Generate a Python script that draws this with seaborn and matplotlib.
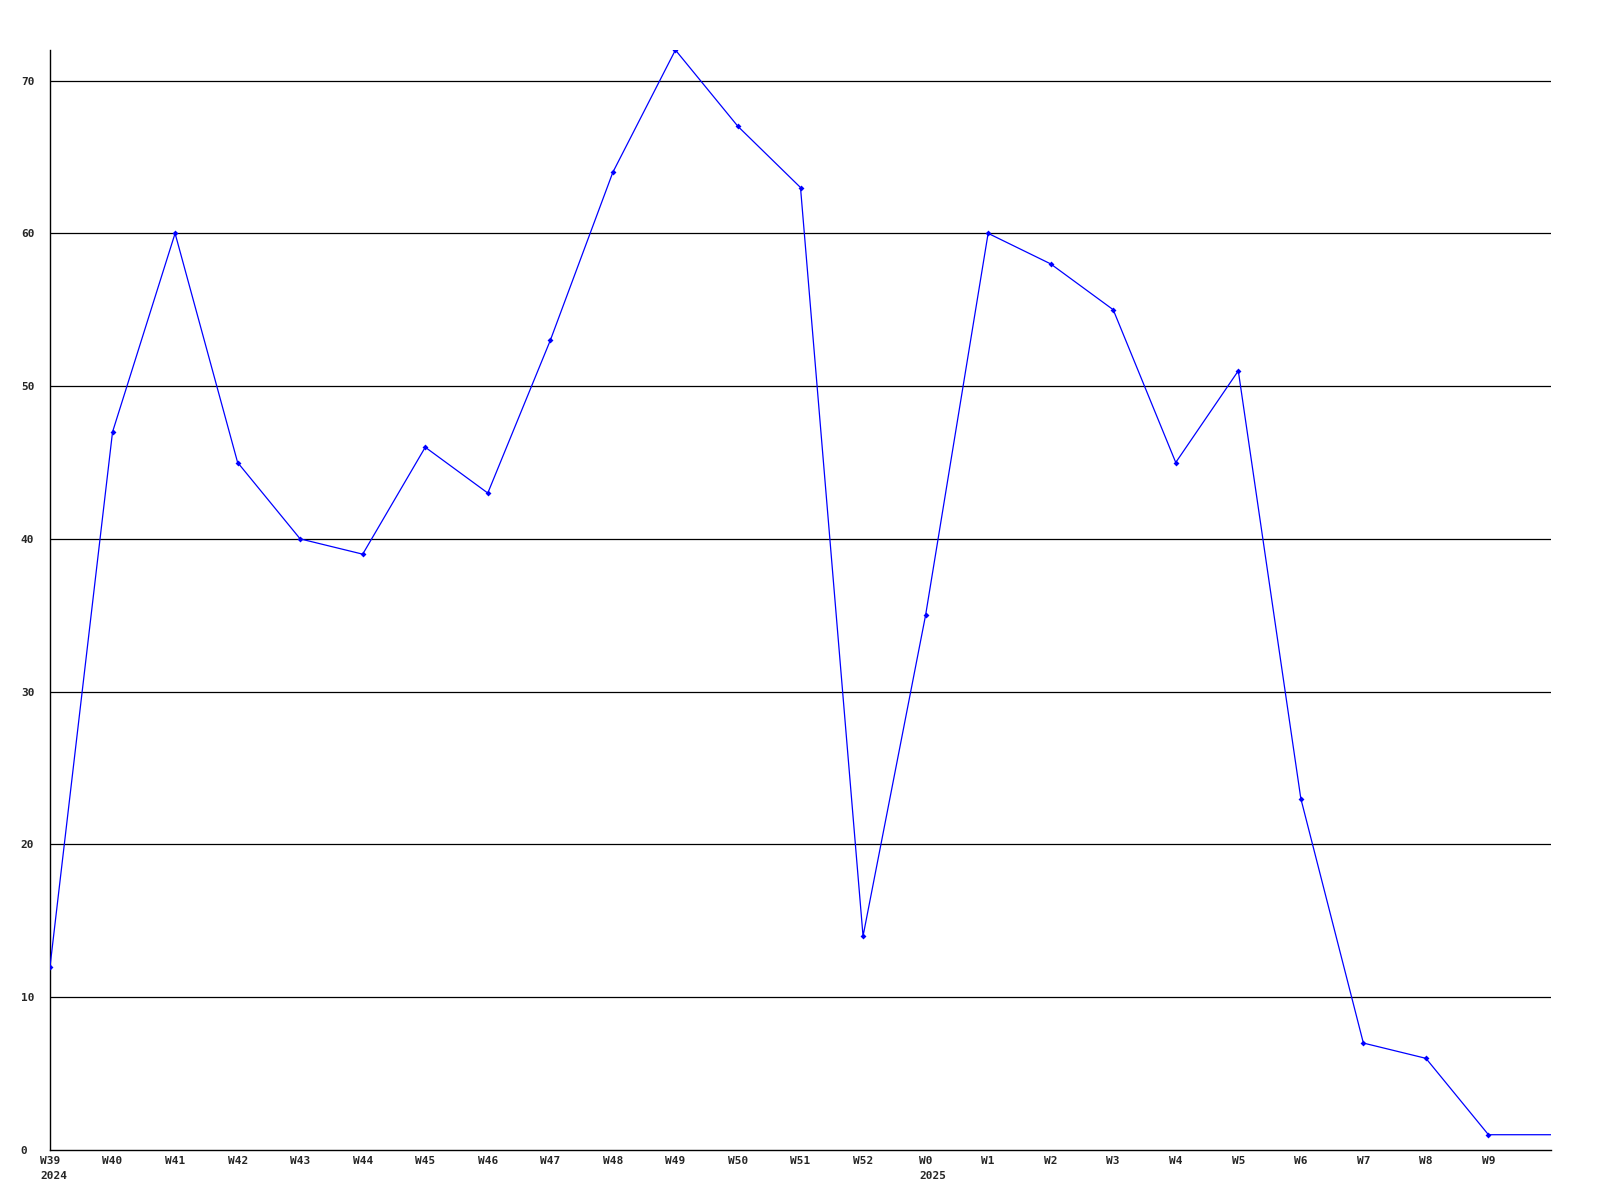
import numpy as np
import pandas as pd
import seaborn as sns
import matplotlib.pyplot as plt

weeks = ["W39", "W40", "W41", "W42", "W43", "W44", "W45", "W46", "W47", "W48",
         "W49", "W50", "W51", "W52", "W0", "W1", "W2", "W3", "W4", "W5",
         "W6", "W7", "W8", "W9", ""]
years = {"W39": "2024", "W0": "2025"}
counts = [12, 47, 60, 45, 40, 39, 46, 43, 53, 64,
          72, 67, 63, 14, 35, 60, 58, 55, 45, 51,
          23, 7, 6, 1, 1]
yticks = [0, 10, 20, 30, 40, 50, 60, 70]

sns.set_style("white")
plt.rcParams['font.family'] = ['DejaVu Sans Mono']
plt.rcParams['font.weight'] = 'bold'

df = pd.DataFrame({"pos": np.arange(len(weeks)), "count": counts})

fig = plt.figure(figsize=(16, 12), dpi=100)
ax = fig.add_axes([50 / 1600, 50 / 1200, 1501 / 1600, 1100 / 1200])

for y in yticks[1:]:
    ax.axhline(y, color="black", lw=0.9, zorder=1)

sns.lineplot(data=df, x="pos", y="count", ax=ax, color="#0000ff", lw=0.9,
             marker="D", markersize=3, markeredgewidth=0,
             markevery=list(range(len(weeks) - 1)), zorder=3)

fs = 8
ax.set_xlim(0, len(weeks) - 1)
ax.set_ylim(0, 72)
ax.set_xticks(df["pos"])
ax.set_xticklabels(weeks, fontsize=fs, fontweight="bold")
ax.set_yticks(yticks)
ax.set_yticklabels([str(v) for v in yticks], fontsize=fs, fontweight="bold", ha="left")
ax.tick_params(axis="y", length=0, pad=21)
ax.tick_params(axis="x", length=0, pad=4)
ax.set_xlabel("")
ax.set_ylabel("")

# year under the first week of each year, left-aligned with the week label
char_w = 0.602 * fs
for i, w in enumerate(weeks):
    if w in years:
        ax.annotate(years[w], xy=(i, 0), xycoords=("data", "axes fraction"),
                    xytext=(-len(w) / 2 * char_w, -19), textcoords="offset points",
                    ha="left", va="center", fontsize=fs, fontweight="bold",
                    annotation_clip=False)

for side in ["top", "right"]:
    ax.spines[side].set_visible(False)
for side in ["left", "bottom"]:
    ax.spines[side].set_color("black")
    ax.spines[side].set_linewidth(1.0)

fig.savefig("out.png", dpi=100)
